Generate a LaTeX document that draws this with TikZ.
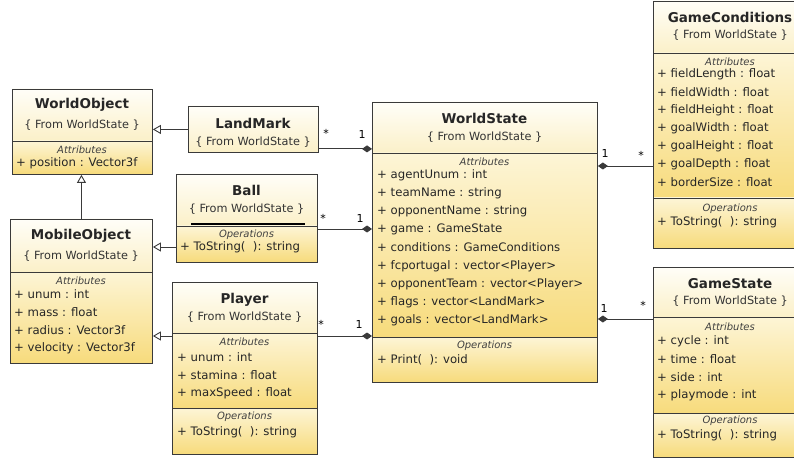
\documentclass[tikz,border=0pt]{standalone}
\usepackage{fontspec}
\setmainfont{DejaVu Sans}
\usetikzlibrary{arrows.meta}
\definecolor{hdtop}{HTML}{FFFEF8}
\definecolor{hdbot}{HTML}{FBF0C8}
\definecolor{cptop}{HTML}{FDF5D6}
\definecolor{cpbot}{HTML}{F7DB7C}
\definecolor{ln}{HTML}{3A3A3A}
\newcommand\hdr[4]{\shade[top color=hdtop,bottom color=hdbot] (#1,#2) rectangle (#3,#4);}
\newcommand\cmp[4]{\shade[top color=cptop,bottom color=cpbot] (#1,#2) rectangle (#3,#4);\draw[divline] (#1,#2) -- (#3,#2);}
\begin{document}
\begin{tikzpicture}[x=1pt,y=-1pt,
 box/.style={draw=ln, line width=0.9pt, inner sep=0pt, anchor=north west},
 title/.style={font=\fontsize{13.5}{15}\selectfont\bfseries, inner sep=0pt, text=black!85},
 from/.style={font=\fontsize{11.3}{12}\selectfont, inner sep=0pt, text=black!80},
 sect/.style={font=\fontsize{10}{11}\selectfont\itshape, inner sep=0pt, text=black!75},
 attr/.style={font=\fontsize{11.7}{13}\selectfont, inner sep=0pt, anchor=west, text=black!85},
 mult/.style={font=\fontsize{11}{12}\selectfont, inner sep=0pt},
 conn/.style={draw=ln, line width=0.9pt},
 gen/.style={conn, -{Triangle[open, fill=white, length=8pt, width=9pt]}},
 comp/.style={conn, -{Diamond[length=10pt, width=7pt]}},
 divline/.style={draw=ln, line width=0.8pt}]
\useasboundingbox (0,0) rectangle (794,462);
\clip (0,0) rectangle (794,462);
\fill[white] (0,0) rectangle (794,462);

% WorldObject
\hdr{12}{89}{152}{141}\cmp{12}{141}{152}{174}
\node[box, minimum width=140pt, minimum height=85pt] (wo) at (12,89) {};
\node[title] (wo-t) at (82,105) {WorldObject};
\node[from] (wo-f) at (82,125) {\{ From WorldState \}};
\node[sect] (wo-s) at (82,150) {Attributes};
\node[attr] (wo-a1) at (16,163) {+ position : Vector3f};

% MobileObject
\hdr{10}{219}{152}{272}\cmp{10}{272}{152}{363}
\node[box, minimum width=142pt, minimum height=144pt] (mo) at (10,219) {};
\node[title] (mo-t) at (81,236) {MobileObject};
\node[from] (mo-f) at (81,256) {\{ From WorldState \}};
\node[sect] (mo-s) at (81,281) {Attributes};
\node[attr] (mo-a1) at (14,294) {+ unum : int};
\node[attr] (mo-a2) at (14,312) {+ mass : float};
\node[attr] (mo-a3) at (14,330) {+ radius : Vector3f};
\node[attr] (mo-a4) at (14,348) {+ velocity : Vector3f};

% LandMark
\hdr{188}{106}{318}{152}
\node[box, minimum width=130pt, minimum height=46pt] (lm) at (188,106) {};
\node[title] (lm-t) at (253,123) {LandMark};
\node[from] (lm-f) at (253,142) {\{ From WorldState \}};

% Ball
\hdr{176}{174}{317}{226}\cmp{176}{226}{317}{262}
\node[box, minimum width=141pt, minimum height=88pt] (ball) at (176,174) {};
\draw[black, line width=2pt] (191,224.5) -- (305,224.5);
\node[title] (ball-t) at (246.5,190) {Ball};
\node[from] (ball-f) at (246.5,209) {\{ From WorldState \}};
\node[sect] (ball-s) at (246.5,235) {Operations};
\node[attr] (ball-o1) at (180,247) {+ ToString(\ \ ): string};

% Player
\hdr{172}{282}{317}{333}\cmp{172}{333}{317}{408}\cmp{172}{408}{317}{454}
\node[box, minimum width=145pt, minimum height=172pt] (pl) at (172,282) {};
\node[title] (pl-t) at (244.5,300) {Player};
\node[from] (pl-f) at (244.5,317) {\{ From WorldState \}};
\node[sect] (pl-s) at (244.5,342) {Attributes};
\node[attr] (pl-a1) at (177,357) {+ unum : int};
\node[attr] (pl-a2) at (177,375) {+ stamina : float};
\node[attr] (pl-a3) at (177,393) {+ maxSpeed : float};
\node[sect] (pl-s2) at (244.5,417) {Operations};
\node[attr] (pl-o1) at (177,432) {+ ToString(\ \ ): string};

% WorldState
\hdr{372}{102}{597}{153}\cmp{372}{153}{597}{337}\cmp{372}{337}{597}{382}
\node[box, minimum width=225pt, minimum height=280pt] (ws) at (372,102) {};
\node[title] (ws-t) at (484.5,118) {WorldState};
\node[from] (ws-f) at (484.5,137) {\{ From WorldState \}};
\node[sect] (ws-s) at (484.5,162) {Attributes};
\node[attr] (ws-a1) at (377,175) {+ agentUnum : int};
\node[attr] (ws-a2) at (377,193) {+ teamName : string};
\node[attr] (ws-a3) at (377,211) {+ opponentName : string};
\node[attr] (ws-a4) at (377,229) {+ game : GameState};
\node[attr] (ws-a5) at (377,247) {+ conditions : GameConditions};
\node[attr] (ws-a6) at (377,266) {+ fcportugal : vector<Player>};
\node[attr] (ws-a7) at (377,284) {+ opponentTeam : vector<Player>};
\node[attr] (ws-a8) at (377,302) {+ flags : vector<LandMark>};
\node[attr] (ws-a9) at (377,320) {+ goals : vector<LandMark>};
\node[sect] (ws-s2) at (484.5,346) {Operations};
\node[attr] (ws-o1) at (377,360) {+ Print(\ \ ): void};

% GameConditions
\hdr{653}{1}{808}{53}\cmp{653}{53}{808}{198}\cmp{653}{198}{808}{248}
\node[box, minimum width=155pt, minimum height=247pt] (gc) at (653,1) {};
\node[title] (gc-t) at (730,17) {GameConditions};
\node[from] (gc-f) at (730,35) {\{ From WorldState \}};
\node[sect] (gc-s) at (730,62) {Attributes};
\node[attr] (gc-a1) at (657,74) {+ fieldLength : float};
\node[attr] (gc-a2) at (657,92) {+ fieldWidth : float};
\node[attr] (gc-a3) at (657,110) {+ fieldHeight : float};
\node[attr] (gc-a4) at (657,128) {+ goalWidth : float};
\node[attr] (gc-a5) at (657,146) {+ goalHeight : float};
\node[attr] (gc-a6) at (657,164) {+ goalDepth : float};
\node[attr] (gc-a7) at (657,182) {+ borderSize : float};
\node[sect] (gc-s2) at (730,209) {Operations};
\node[attr] (gc-o1) at (657,222) {+ ToString(\ \ ): string};

% GameState
\hdr{653}{267}{808}{317}\cmp{653}{317}{808}{413}\cmp{653}{413}{808}{457}
\node[box, minimum width=155pt, minimum height=190pt] (gs) at (653,267) {};
\node[title] (gs-t) at (730,284) {GameState};
\node[from] (gs-f) at (730,301) {\{ From WorldState \}};
\node[sect] (gs-s) at (730,327) {Attributes};
\node[attr] (gs-a1) at (657,341) {+ cycle : int};
\node[attr] (gs-a2) at (657,359) {+ time : float};
\node[attr] (gs-a3) at (657,377) {+ side : int};
\node[attr] (gs-a4) at (657,395) {+ playmode : int};
\node[sect] (gs-s2) at (730,421) {Operations};
\node[attr] (gs-o1) at (657,435) {+ ToString(\ \ ): string};

% generalizations
\draw[gen] (lm.west) -- (lm.west -| wo.east);
\draw[gen] (mo.north) -- (mo.north |- wo.south);
\draw[gen] ([yshift=-73pt]ball.north west) -- ([yshift=-73pt]ball.north west -| mo.east);
\draw[gen] ([yshift=-54pt]pl.north west) -- ([yshift=-54pt]pl.north west -| mo.east);

% compositions
\draw[comp] ([yshift=4pt]lm.south east) -- ([yshift=4pt]lm.south east -| ws.west);
\draw[comp] (ball.east |- ws-a4) -- (ws.west |- ws-a4);
\draw[comp] ([yshift=-54pt]pl.north east) -- ([yshift=-54pt]pl.north east -| ws.west);
\draw[comp] ([yshift=-165pt]gc.north west) -- ([yshift=-165pt]gc.north west -| ws.east);
\draw[comp] ([yshift=-52pt]gs.north west) -- ([yshift=-52pt]gs.north west -| ws.east);

% multiplicities
\node[mult] (m1a) at (326,133) {*};
\node[mult] (m1b) at (362,134) {1};
\node[mult] (m2a) at (323,218) {*};
\node[mult] (m2b) at (360,218) {1};
\node[mult] (m3a) at (321,324) {*};
\node[mult] (m3b) at (359,324) {1};
\node[mult] (m4a) at (605,153) {1};
\node[mult] (m4b) at (641,155) {*};
\node[mult] (m5a) at (604,308) {1};
\node[mult] (m5b) at (643,305) {*};
\end{tikzpicture}
\end{document}
